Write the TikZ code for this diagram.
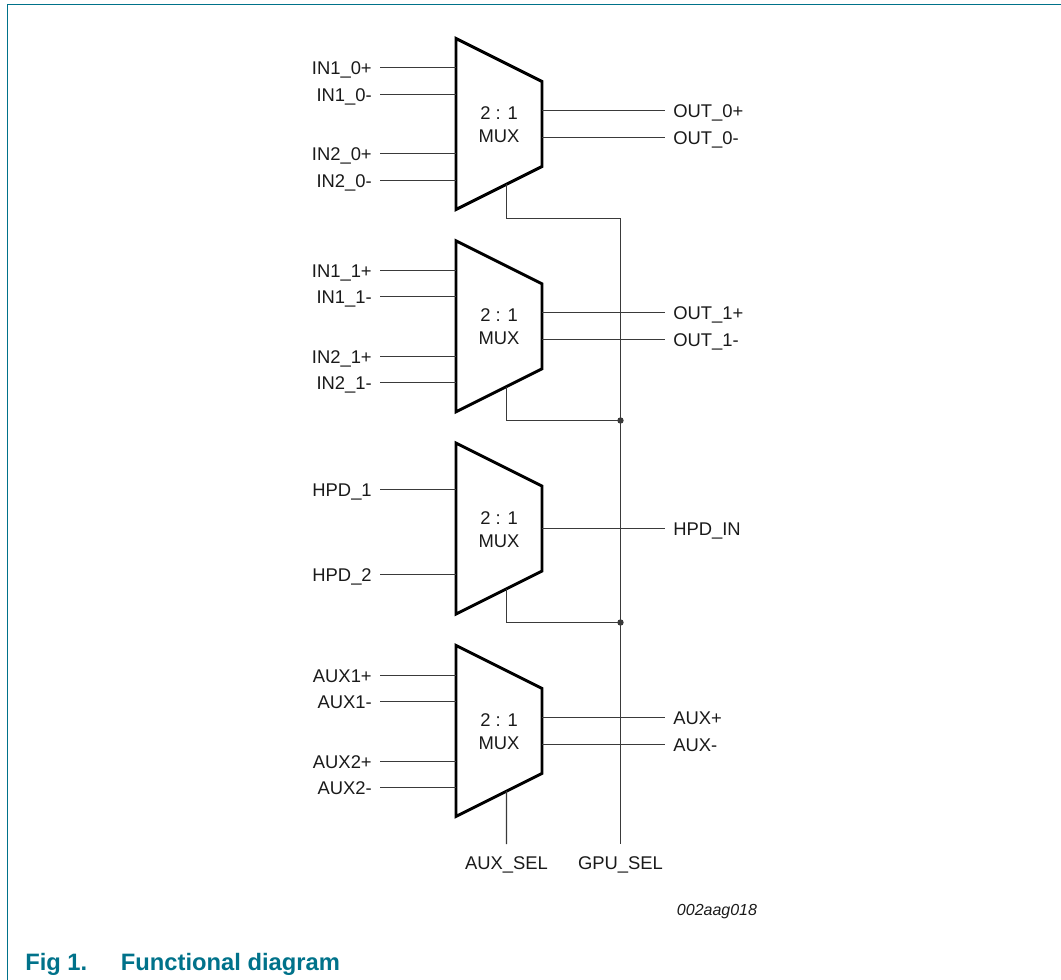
\documentclass[tikz,border=0pt]{standalone}
\usepackage{fontspec}
\setmainfont{Liberation Sans}
\usetikzlibrary{calc}
\definecolor{nxp}{HTML}{00728A}
\definecolor{wirec}{HTML}{3A3A3A}
\definecolor{labelc}{HTML}{1A1A1A}
\newcommand\mymux[2]{%
  \draw[muxbox] (456,#2) coordinate (#1tl) -- (542,#2+43) coordinate (#1tr)
     -- (542,#2+128) coordinate (#1br) -- (456,#2+171) coordinate (#1bl) -- cycle;
  \node[lbl, anchor=center, inner sep=0pt] (#1a) at (499,#2+74.5) {2 : 1};
  \node[lbl, anchor=center, inner sep=0pt] (#1b) at (499,#2+97.5) {MUX};
  \coordinate (#1s) at ($(#1bl)!0.5872!(#1br)$);
}
\newcommand\myin[4]{% name, mux, y, text
  \node[inlbl] (#1) at (380,#3) {#4};
  \draw[wire] (#1.east) -- (#1.east -| #2tl);
}
\newcommand\myout[4]{%
  \node[outlbl] (#1) at (665,#3) {#4};
  \draw[wire] (#1.west -| #2tr) -- (#1.west);
}
\begin{document}
\begin{tikzpicture}[x=0.75pt,y=-0.75pt,
  muxbox/.style={line width=2.2pt, draw=black, line join=miter},
  wire/.style={line width=0.95pt, draw=wirec},
  lbl/.style={font=\fontsize{13.8pt}{16pt}\selectfont, text height=9.9pt, text depth=0pt,
              inner ysep=0pt, inner xsep=6pt, text=labelc},
  inlbl/.style={lbl, anchor=east},
  outlbl/.style={lbl, anchor=west},
  sellbl/.style={lbl, anchor=north, inner ysep=9pt},
  jdot/.style={circle, fill=wirec, inner sep=0pt, minimum size=4.8pt}]
\useasboundingbox (0,0) rectangle (1061,980);
\draw[line width=1.1pt, nxp] (1061,4.5) -- (7.7,4.5) -- (7.7,980);

% MUX 1
\mymux{ma}{38.5}
\myin{ia1}{ma}{67.5}{IN1\_0+}
\myin{ia2}{ma}{94.5}{IN1\_0-}
\myin{ia3}{ma}{153.5}{IN2\_0+}
\myin{ia4}{ma}{180.5}{IN2\_0-}
\myout{oa1}{ma}{110.5}{OUT\_0+}
\myout{oa2}{ma}{137.5}{OUT\_0-}

% MUX 2
\mymux{mb}{240.8}
\myin{ib1}{mb}{270.5}{IN1\_1+}
\myin{ib2}{mb}{296.5}{IN1\_1-}
\myin{ib3}{mb}{356.5}{IN2\_1+}
\myin{ib4}{mb}{382.5}{IN2\_1-}
\myout{ob1}{mb}{312.5}{OUT\_1+}
\myout{ob2}{mb}{339.5}{OUT\_1-}

% MUX 3
\mymux{mc}{443.1}
\myin{ic1}{mc}{489.5}{HPD\_1}
\myin{ic2}{mc}{574.5}{HPD\_2}
\myout{oc1}{mc}{528.5}{HPD\_IN}

% MUX 4
\mymux{md}{645.4}
\myin{id1}{md}{675.5}{AUX1+}
\myin{id2}{md}{701.5}{AUX1-}
\myin{id3}{md}{761.5}{AUX2+}
\myin{id4}{md}{787.5}{AUX2-}
\myout{od1}{md}{717.5}{AUX+}
\myout{od2}{md}{744.5}{AUX-}

% select lines
\node[sellbl] (gpusel) at (620.5,844) {GPU\_SEL};
\node[sellbl] (auxsel) at (506.5,844) {AUX\_SEL};
\coordinate (gtop) at (620.5,218.5);
\coordinate (jb) at (620.5,420.5);
\coordinate (jc) at (620.5,622.5);
\draw[wire] (mas) |- (gtop) -- (gpusel.north);
\draw[wire] (mbs) |- (jb);
\draw[wire] (mcs) |- (jc);
\draw[wire] (mds) -- (auxsel.north);
\node[jdot] (dotb) at (jb) {};
\node[jdot] (dotc) at (jc) {};

% code and caption
\node[anchor=base west, inner sep=0pt, text=labelc,
      font=\itshape\fontsize{12pt}{14pt}\selectfont] (code) at (676.7,915) {002aag018};
\node[anchor=base west, inner sep=0pt, text=nxp,
      font=\bfseries\fontsize{17.8pt}{20pt}\selectfont] (figno) at (25,970.5) {Fig 1.};
\node[anchor=base west, inner sep=0pt, text=nxp,
      font=\bfseries\fontsize{17.8pt}{20pt}\selectfont] (figtitle) at (120.7,970.5) {Functional diagram};
\end{tikzpicture}
\end{document}
